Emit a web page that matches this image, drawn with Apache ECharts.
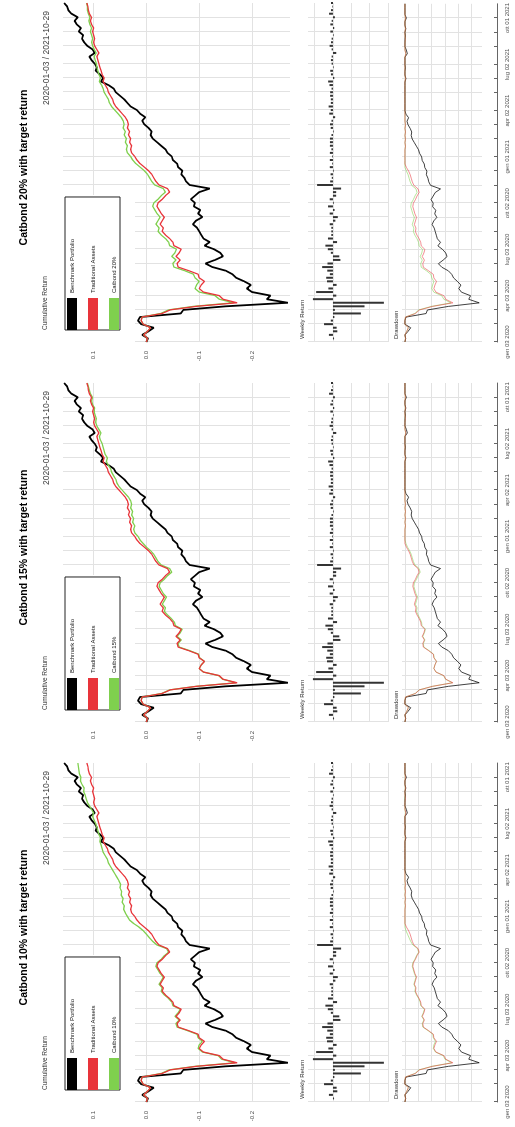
<!DOCTYPE html>
<html><head><meta charset="utf-8">
<script src="https://cdn.jsdelivr.net/npm/echarts@6/dist/echarts.min.js"></script>
<style>
html,body{margin:0;padding:0;width:515px;height:1127px;overflow:hidden;background:#fff;}
#rot{position:absolute;left:0;top:0;width:1127px;height:515px;transform-origin:0 0;transform:translateY(1127px) rotate(-90deg);}
#chart{width:1127px;height:515px;}
</style></head><body>
<div id="rot"><div id="chart"></div></div>
<script>
// weekly observation dates
const dates = ['2020-01-03','2020-01-10','2020-01-17','2020-01-24','2020-01-31','2020-02-07','2020-02-14','2020-02-21','2020-02-28','2020-03-06','2020-03-13','2020-03-20','2020-03-27','2020-04-03','2020-04-10','2020-04-17','2020-04-24','2020-05-01','2020-05-08','2020-05-15','2020-05-22','2020-05-29','2020-06-05','2020-06-12','2020-06-19','2020-06-26','2020-07-03','2020-07-10','2020-07-17','2020-07-24','2020-07-31','2020-08-07','2020-08-14','2020-08-21','2020-08-28','2020-09-04','2020-09-11','2020-09-18','2020-09-25','2020-10-02','2020-10-09','2020-10-16','2020-10-23','2020-10-30','2020-11-06','2020-11-13','2020-11-20','2020-11-27','2020-12-04','2020-12-11','2020-12-18','2020-12-25','2021-01-01','2021-01-08','2021-01-15','2021-01-22','2021-01-29','2021-02-05','2021-02-12','2021-02-19','2021-02-26','2021-03-05','2021-03-12','2021-03-19','2021-03-26','2021-04-02','2021-04-09','2021-04-16','2021-04-23','2021-04-30','2021-05-07','2021-05-14','2021-05-21','2021-05-28','2021-06-04','2021-06-11','2021-06-18','2021-06-25','2021-07-02','2021-07-09','2021-07-16','2021-07-23','2021-07-30','2021-08-06','2021-08-13','2021-08-20','2021-08-27','2021-09-03','2021-09-10','2021-09-17','2021-09-24','2021-10-01','2021-10-08','2021-10-15','2021-10-22','2021-10-29'];

// cumulative returns
const benchmark = [0.000,-0.003,0.008,-0.004,-0.014,0.010,0.016,0.012,-0.065,-0.070,-0.150,-0.268,-0.228,-0.235,-0.200,-0.190,-0.198,-0.185,-0.170,-0.163,-0.150,-0.125,-0.112,-0.130,-0.145,-0.140,-0.128,-0.110,-0.120,-0.108,-0.104,-0.100,-0.096,-0.088,-0.094,-0.106,-0.098,-0.102,-0.090,-0.092,-0.084,-0.092,-0.100,-0.120,-0.082,-0.075,-0.072,-0.066,-0.068,-0.060,-0.058,-0.050,-0.048,-0.040,-0.036,-0.028,-0.020,-0.012,-0.008,-0.010,-0.004,0.004,0.008,0.002,0.012,0.018,0.030,0.036,0.042,0.050,0.058,0.062,0.072,0.086,0.082,0.088,0.096,0.094,0.098,0.104,0.108,0.098,0.102,0.112,0.118,0.122,0.120,0.128,0.124,0.132,0.136,0.130,0.142,0.148,0.150,0.156];
const traditional = [0.000,-0.002,0.005,-0.002,-0.008,0.006,0.010,0.008,-0.030,-0.045,-0.095,-0.172,-0.145,-0.138,-0.108,-0.100,-0.104,-0.110,-0.100,-0.098,-0.080,-0.060,-0.058,-0.064,-0.056,-0.062,-0.066,-0.052,-0.050,-0.044,-0.036,-0.030,-0.032,-0.026,-0.030,-0.034,-0.028,-0.024,-0.020,-0.022,-0.030,-0.036,-0.044,-0.040,-0.024,-0.018,-0.014,-0.010,-0.004,0.004,0.012,0.018,0.022,0.028,0.030,0.028,0.032,0.030,0.034,0.032,0.036,0.034,0.036,0.040,0.046,0.052,0.058,0.062,0.064,0.068,0.072,0.074,0.078,0.082,0.080,0.084,0.086,0.088,0.090,0.092,0.094,0.090,0.094,0.098,0.100,0.098,0.100,0.102,0.100,0.104,0.106,0.104,0.108,0.110,0.111,0.113];
const catbond10 = [0.000,-0.002,0.005,-0.002,-0.008,0.006,0.010,0.008,-0.028,-0.043,-0.092,-0.168,-0.142,-0.136,-0.106,-0.098,-0.100,-0.106,-0.098,-0.096,-0.078,-0.058,-0.056,-0.062,-0.054,-0.060,-0.064,-0.050,-0.048,-0.042,-0.034,-0.028,-0.030,-0.024,-0.028,-0.032,-0.026,-0.022,-0.018,-0.020,-0.028,-0.034,-0.042,-0.038,-0.020,-0.012,-0.006,0.000,0.006,0.014,0.024,0.032,0.036,0.040,0.043,0.042,0.046,0.044,0.048,0.047,0.050,0.049,0.052,0.056,0.060,0.064,0.068,0.072,0.074,0.078,0.082,0.084,0.086,0.088,0.087,0.090,0.092,0.094,0.096,0.099,0.102,0.100,0.104,0.108,0.112,0.114,0.116,0.119,0.118,0.122,0.125,0.124,0.127,0.128,0.129,0.130];
const catbond15 = [0.000,-0.002,0.005,-0.002,-0.008,0.006,0.010,0.008,-0.029,-0.044,-0.094,-0.170,-0.144,-0.137,-0.108,-0.100,-0.104,-0.110,-0.101,-0.099,-0.082,-0.062,-0.060,-0.066,-0.058,-0.064,-0.068,-0.055,-0.053,-0.047,-0.040,-0.034,-0.036,-0.030,-0.034,-0.038,-0.032,-0.028,-0.024,-0.026,-0.034,-0.040,-0.048,-0.044,-0.028,-0.022,-0.018,-0.014,-0.008,0.000,0.006,0.012,0.016,0.022,0.024,0.022,0.026,0.024,0.028,0.026,0.030,0.028,0.030,0.034,0.040,0.046,0.052,0.056,0.058,0.062,0.066,0.068,0.072,0.076,0.074,0.078,0.080,0.082,0.084,0.087,0.089,0.086,0.090,0.094,0.096,0.095,0.097,0.099,0.098,0.102,0.104,0.102,0.106,0.108,0.110,0.112];
const catbond20 = [0.000,-0.002,0.005,-0.002,-0.008,0.006,0.010,0.008,-0.027,-0.042,-0.090,-0.165,-0.138,-0.130,-0.100,-0.092,-0.095,-0.100,-0.092,-0.089,-0.072,-0.052,-0.050,-0.056,-0.048,-0.054,-0.057,-0.044,-0.042,-0.036,-0.028,-0.022,-0.024,-0.018,-0.022,-0.026,-0.020,-0.016,-0.012,-0.014,-0.022,-0.028,-0.036,-0.032,-0.016,-0.010,-0.006,-0.002,0.004,0.012,0.020,0.026,0.030,0.036,0.038,0.036,0.040,0.038,0.042,0.040,0.044,0.042,0.044,0.048,0.054,0.060,0.066,0.070,0.072,0.076,0.080,0.082,0.085,0.089,0.087,0.090,0.092,0.094,0.095,0.097,0.099,0.095,0.099,0.102,0.104,0.102,0.104,0.106,0.104,0.107,0.109,0.107,0.110,0.112,0.112,0.113];

// panel titles and legend names
const panelTitles = ['Catbond 10% with target return','Catbond 15% with target return','Catbond 20% with target return'];
const catbondNames = ['Catbond 10%','Catbond 15%','Catbond 20%'];
const catbondSeries = [catbond10, catbond15, catbond20];
const seriesNames = ['Benchmark Portfolio','Traditional Assets'];
const seriesColors = ['#000000','#e8343a','#7fd04e'];

// tick labels
const tickDates = ['2020-01-03','2020-04-03','2020-07-03','2020-10-02','2021-01-01','2021-04-02','2021-07-02','2021-10-01'];
const tickLabels = ['gen 03 2020','apr 03 2020','lug 03 2020','ott 02 2020','gen 01 2021','apr 02 2021','lug 02 2021','ott 01 2021'];
const cumTicks = [0.1, 0, -0.1, -0.2];
const weeklyTicks = [0.05, 0, -0.05, -0.1, -0.15];
const ddTicks = [0, -0.05, -0.1, -0.15, -0.2, -0.25];
const periodLabel = '2020-01-03 / 2021-10-29';

// period returns and drawdowns derived from the cumulative series (as the original chart does)
function periodReturns(c){ return c.map((v,i)=> i===0 ? v : +((1+v)/(1+c[i-1]) - 1).toFixed(4)); }
function drawdowns(c){ let peak = 1; return c.map(v=>{ const w = 1+v; if (w>peak) peak=w; return +(w/peak - 1).toFixed(4); }); }

const monthTick = (i, v) => Number(String(v).slice(8,10)) <= 7;
const FONT = '"Liberation Sans", Arial, sans-serif';
const GRID = '#e2e2e2';

const option = {animation:false, textStyle:{fontFamily:FONT}, title:[], grid:[], xAxis:[], yAxis:[], series:[], legend:[], graphic:[]};

panelTitles.forEach((title, k) => {
  const L = 25 + 380*k, W = 339;
  const names = [seriesNames[0], seriesNames[1], catbondNames[k]];
  const cum = [benchmark, traditional, catbondSeries[k]];
  option.title.push({text:title, left:L+W/2, top:14, textAlign:'center', textStyle:{fontSize:10.5, fontWeight:'bold', color:'#000', fontFamily:FONT}});
  const gi = option.grid.length;
  option.grid.push({left:L, top:63, width:W, height:227}, {left:L, top:308, width:W, height:80}, {left:L, top:402, width:W, height:80});
  for (let j=0;j<3;j++){
    const last = j===2;
    option.xAxis.push({gridIndex:gi+j, type:'category', data:dates, boundaryGap:false, offset: last?15:0,
      axisLine:{show:last, onZero:false, lineStyle:{color:'#666', width:1}},
      axisTick:{show:last, inside:true, length:3, interval:monthTick, lineStyle:{color:'#666'}},
      axisLabel:{show:last, interval:(i,v)=>tickDates.includes(v), formatter:v=>tickLabels[tickDates.indexOf(v)]||'', fontSize:6, color:'#555', margin:7},
      splitLine:{show:true, interval:monthTick, lineStyle:{color:GRID, width:1}}});
  }
  const yb = option.yAxis.length;
  const cumMin = -0.272, cumMax = 0.158;
  option.yAxis.push(
    {gridIndex:gi, type:'value', min:cumMin, max:cumMax, position:'left', axisLine:{show:false}, axisTick:{show:false, customValues:cumTicks},
     axisLabel:{customValues:cumTicks, formatter:v=>v.toFixed(1), fontSize:6, color:'#555', margin:9}, splitLine:{show:true, lineStyle:{color:GRID}}},
    {gridIndex:gi+1, type:'value', min:-0.15, max:0.068, axisLine:{show:false}, axisTick:{show:false, customValues:weeklyTicks},
     axisLabel:{show:false}, splitLine:{show:true, lineStyle:{color:GRID}}},
    {gridIndex:gi+2, type:'value', min:-0.29, max:0.011, axisLine:{show:false}, axisTick:{show:false, customValues:ddTicks},
     axisLabel:{show:false}, splitLine:{show:true, lineStyle:{color:GRID}}}
  );
  const order = [0,2,1];
  order.forEach(s => {
    option.series.push({type:'line', name:names[s], xAxisIndex:gi, yAxisIndex:yb, data:cum[s], symbol:'none', z:3,
      color:seriesColors[s], itemStyle:{color:seriesColors[s]}, lineStyle:{color:seriesColors[s], width: s===0?1.8:1.3}});
  });
  option.series.push({type:'bar', name:'Weekly '+names[0], xAxisIndex:gi+1, yAxisIndex:yb+1, data:periodReturns(benchmark), barWidth:2, itemStyle:{color:'#333'}});
  order.forEach(s => {
    option.series.push({type:'line', name:names[s], xAxisIndex:gi+2, yAxisIndex:yb+2, data:drawdowns(cum[s]), symbol:'none', z:3,
      color:seriesColors[s], itemStyle:{color:seriesColors[s]}, lineStyle:{color:seriesColors[s], width:1, opacity: s===0?0.75:0.55}});
  });
  option.legend.push({left:L+12, top:65, orient:'vertical', data:names, icon:'rect', itemWidth:32, itemHeight:10, itemGap:11,
    padding:[2,42,1,0], borderColor:'#222', borderWidth:1, backgroundColor:'#fff', selectedMode:false,
    textStyle:{fontSize:6, color:'#222', fontFamily:FONT}});
  option.graphic.push(
    {type:'rect', shape:{x:L, y:63, width:147, height:72}, style:{fill:'#fff'}, z:1, silent:true},
    {type:'text', x:L+12, y:45, style:{text:'Cumulative Return', fontSize:6.5, fill:'#333', verticalAlign:'middle', fontFamily:FONT}, z:5},
    {type:'text', x:L+W-8, y:47, style:{text:periodLabel, fontSize:8.5, fill:'#444', align:'right', verticalAlign:'middle', fontFamily:FONT}, z:5},
    {type:'text', x:L+3, y:302, style:{text:'Weekly Return', fontSize:6, fill:'#333', verticalAlign:'middle', fontFamily:FONT}, z:5},
    {type:'text', x:L+3, y:396, style:{text:'Drawdown', fontSize:6, fill:'#333', verticalAlign:'middle', fontFamily:FONT}, z:5}
  );
});

const chart = echarts.init(document.getElementById('chart'), null, {renderer:'canvas'});
chart.setOption(option);
</script>
</body></html>
